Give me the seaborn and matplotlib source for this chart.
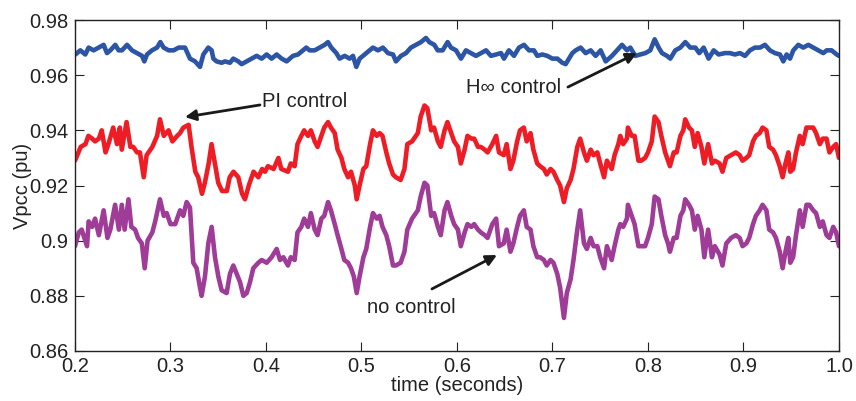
import numpy as np
import pandas as pd
import matplotlib
matplotlib.use("Agg")
import matplotlib.pyplot as plt
import seaborn as sns

# H-infinity control (blue)
t_hinf = [0.2004, 0.2056, 0.2108, 0.2143, 0.2195, 0.2248, 0.2300, 0.2335, 0.2370, 0.2422,
          0.2457, 0.2492, 0.2545, 0.2597, 0.2649, 0.2702, 0.2726, 0.2754, 0.2806, 0.2859,
          0.2894, 0.2928, 0.2981, 0.3033, 0.3086,
          0.3152, 0.3204, 0.3257, 0.3309, 0.3344, 0.3396, 0.3431, 0.3449, 0.3483, 0.3536,
          0.3571, 0.3623, 0.3658, 0.3710, 0.3745, 0.3798, 0.3850, 0.3902, 0.3955, 0.4007,
          0.4059, 0.4112, 0.4164, 0.4216,
          0.4283, 0.4335, 0.4388, 0.4422, 0.4457, 0.4510, 0.4562, 0.4614, 0.4649, 0.4684,
          0.4737, 0.4771, 0.4824, 0.4876, 0.4911, 0.4946, 0.4981, 0.5033, 0.5086, 0.5120,
          0.5173, 0.5225, 0.5277, 0.5330,
          0.5361, 0.5414, 0.5466, 0.5518, 0.5571, 0.5623, 0.5675, 0.5710, 0.5763, 0.5798,
          0.5850, 0.5902, 0.5937, 0.5990, 0.6042, 0.6094, 0.6147, 0.6199, 0.6251, 0.6304,
          0.6356, 0.6408, 0.6461,
          0.6492, 0.6544, 0.6597, 0.6649, 0.6702, 0.6754, 0.6806, 0.6841, 0.6894, 0.6946,
          0.6998, 0.7051, 0.7103, 0.7138, 0.7173, 0.7208, 0.7243, 0.7295, 0.7347, 0.7400,
          0.7452, 0.7504, 0.7557,
          0.7623, 0.7675, 0.7728, 0.7780, 0.7815, 0.7867, 0.7920, 0.7972, 0.8024, 0.8070,
          0.8112, 0.8147, 0.8199, 0.8234, 0.8286, 0.8339, 0.8391, 0.8443, 0.8496, 0.8537,
          0.8583, 0.8635, 0.8688, 0.8740,
          0.8806, 0.8859, 0.8911, 0.8963, 0.9016, 0.9068, 0.9120, 0.9173, 0.9225, 0.9277,
          0.9330, 0.9382, 0.9417, 0.9452, 0.9487, 0.9522, 0.9574, 0.9626, 0.9679, 0.9731,
          0.9784, 0.9836, 0.9871, 0.9923, 0.9976, 1.0]
v_hinf = [0.9675, 0.969, 0.9675, 0.970, 0.969, 0.970, 0.971, 0.968, 0.969, 0.971,
          0.969, 0.969, 0.971, 0.969, 0.968, 0.967, 0.965, 0.9675, 0.969, 0.970,
          0.972, 0.970, 0.969, 0.969, 0.970,
          0.970, 0.966, 0.965, 0.963, 0.9675, 0.970, 0.969, 0.966, 0.965, 0.9645,
          0.965, 0.9645, 0.966, 0.965, 0.964, 0.965, 0.966, 0.967, 0.966, 0.9675,
          0.966, 0.9675, 0.966, 0.965,
          0.967, 0.9675, 0.969, 0.970, 0.969, 0.969, 0.970, 0.971, 0.972, 0.970,
          0.968, 0.966, 0.967, 0.966, 0.967, 0.963, 0.966, 0.9675, 0.969, 0.970,
          0.969, 0.970, 0.968, 0.9675,
          0.965, 0.967, 0.968, 0.970, 0.971, 0.972, 0.9735, 0.972, 0.971, 0.969,
          0.969, 0.972, 0.970, 0.969, 0.966, 0.969, 0.968, 0.967, 0.968, 0.969,
          0.967, 0.9675, 0.968,
          0.966, 0.969, 0.967, 0.970, 0.971, 0.969, 0.969, 0.967, 0.9675, 0.967,
          0.966, 0.966, 0.9645, 0.964, 0.966, 0.968, 0.969, 0.970, 0.968, 0.969,
          0.967, 0.969, 0.965,
          0.967, 0.969, 0.971, 0.969, 0.970, 0.967, 0.9675, 0.968, 0.969, 0.973,
          0.970, 0.968, 0.967, 0.966, 0.969, 0.970, 0.972, 0.970, 0.970, 0.968,
          0.970, 0.966, 0.969, 0.9675,
          0.968, 0.968, 0.9675, 0.968, 0.967, 0.969, 0.970, 0.970, 0.971, 0.969,
          0.968, 0.9675, 0.965, 0.9675, 0.966, 0.969, 0.971, 0.970, 0.971, 0.970,
          0.969, 0.968, 0.969, 0.969, 0.9675, 0.967]

# PI control (red)
t_pi = [0.200, 0.206, 0.211, 0.214, 0.218, 0.221, 0.225, 0.228, 0.232, 0.235,
        0.240, 0.244, 0.247, 0.249, 0.254, 0.258, 0.261, 0.265, 0.268, 0.272,
        0.275, 0.281, 0.286, 0.289, 0.293, 0.298, 0.302, 0.307,
        0.310, 0.3135, 0.319, 0.322, 0.326, 0.329, 0.333, 0.336, 0.340, 0.343,
        0.347, 0.350, 0.354, 0.359, 0.362, 0.366, 0.371, 0.375, 0.378, 0.382,
        0.387, 0.392, 0.396, 0.399, 0.402, 0.408, 0.413, 0.416,
        0.423, 0.426, 0.430, 0.433, 0.437, 0.440, 0.444, 0.447, 0.451, 0.454,
        0.458, 0.461, 0.465, 0.468, 0.472, 0.475, 0.479, 0.482, 0.486, 0.489,
        0.493, 0.495, 0.498, 0.502, 0.505, 0.509, 0.512, 0.516, 0.519, 0.522,
        0.526, 0.529, 0.533,
        0.536, 0.541, 0.545, 0.548, 0.553, 0.559, 0.562, 0.566, 0.569, 0.573,
        0.576, 0.580, 0.583, 0.587, 0.590, 0.594, 0.597, 0.601, 0.604, 0.608,
        0.611, 0.615, 0.618, 0.622, 0.625, 0.629, 0.632, 0.637, 0.641, 0.644,
        0.649, 0.652, 0.656, 0.659, 0.663, 0.666, 0.670, 0.673, 0.677, 0.680,
        0.684, 0.687, 0.691, 0.694, 0.698, 0.701, 0.705, 0.708, 0.712, 0.715,
        0.719, 0.722, 0.726, 0.729, 0.733, 0.736, 0.740, 0.743, 0.747, 0.750,
        0.754, 0.757,
        0.762, 0.765, 0.769, 0.771, 0.774, 0.778, 0.779, 0.783, 0.786, 0.790,
        0.793, 0.797, 0.800, 0.804, 0.807, 0.811, 0.814, 0.818, 0.821, 0.823,
        0.827, 0.830, 0.834, 0.837, 0.839, 0.843, 0.846, 0.849, 0.852, 0.856,
        0.859, 0.863, 0.867, 0.870,
        0.875, 0.878, 0.882, 0.887, 0.892, 0.896, 0.899, 0.903, 0.906, 0.910,
        0.913, 0.917, 0.920, 0.924, 0.927, 0.931, 0.934, 0.938, 0.941, 0.944,
        0.947, 0.949, 0.952, 0.955, 0.959, 0.962, 0.966, 0.969, 0.973, 0.976,
        0.980, 0.983, 0.987, 0.990, 0.994, 0.997, 1.000]
v_pi = [0.929, 0.934, 0.935, 0.938, 0.937, 0.936, 0.937, 0.940, 0.932, 0.935,
        0.941, 0.935, 0.941, 0.933, 0.943, 0.934, 0.934, 0.932, 0.932, 0.923,
        0.931, 0.934, 0.938, 0.944, 0.938, 0.940, 0.936, 0.938,
        0.939, 0.941, 0.942, 0.934, 0.925, 0.923, 0.917, 0.921, 0.928, 0.935,
        0.927, 0.921, 0.918, 0.918, 0.923, 0.925, 0.923, 0.917, 0.915, 0.920,
        0.925, 0.923, 0.926, 0.925, 0.927, 0.926, 0.930, 0.926,
        0.925, 0.928, 0.927, 0.935, 0.938, 0.940, 0.938, 0.940, 0.936, 0.934,
        0.938, 0.941, 0.943, 0.941, 0.939, 0.933, 0.930, 0.926, 0.923, 0.925,
        0.920, 0.915, 0.920, 0.926, 0.927, 0.935, 0.940, 0.938, 0.939, 0.938,
        0.932, 0.928, 0.924,
        0.923, 0.922, 0.926, 0.935, 0.936, 0.939, 0.945, 0.949, 0.948, 0.940,
        0.941, 0.936, 0.934, 0.940, 0.943, 0.939, 0.936, 0.934, 0.928, 0.933,
        0.938, 0.937, 0.937, 0.934, 0.934, 0.933, 0.932, 0.935, 0.938, 0.932,
        0.931, 0.935, 0.926, 0.929, 0.936, 0.940, 0.941, 0.936, 0.939, 0.933,
        0.928, 0.927, 0.926, 0.924, 0.926, 0.925, 0.922, 0.920, 0.914, 0.919,
        0.922, 0.926, 0.934, 0.937, 0.932, 0.929, 0.933, 0.931, 0.932, 0.928,
        0.923, 0.929,
        0.926, 0.931, 0.935, 0.938, 0.935, 0.937, 0.941, 0.938, 0.938, 0.929,
        0.929, 0.930, 0.932, 0.936, 0.945, 0.943, 0.938, 0.932, 0.929, 0.927,
        0.932, 0.932, 0.938, 0.940, 0.944, 0.941, 0.940, 0.934, 0.939, 0.934,
        0.928, 0.935, 0.928, 0.929,
        0.928, 0.925, 0.930, 0.931, 0.932, 0.931, 0.929, 0.930, 0.931, 0.936,
        0.938, 0.939, 0.941, 0.940, 0.934, 0.933, 0.931, 0.927, 0.923, 0.928,
        0.932, 0.925, 0.926, 0.932, 0.938, 0.935, 0.941, 0.941, 0.941, 0.939,
        0.935, 0.937, 0.937, 0.932, 0.934, 0.935, 0.930]

# no control (purple)
t_nc = [0.200, 0.204, 0.207, 0.2126, 0.2143, 0.218, 0.221, 0.225, 0.230, 0.234,
        0.237, 0.242, 0.246, 0.249, 0.252, 0.256, 0.259, 0.263, 0.266, 0.270,
        0.273, 0.276, 0.281, 0.284, 0.289, 0.293, 0.296, 0.300, 0.305,
        0.310, 0.3134, 0.3169, 0.3204, 0.3239, 0.3274, 0.3309, 0.3326, 0.3361, 0.3396,
        0.3431, 0.3466, 0.3501, 0.3536, 0.3588, 0.3623, 0.3658, 0.3693, 0.3728, 0.3763,
        0.3798, 0.3833, 0.3867, 0.3920, 0.3955, 0.4007, 0.4059, 0.4112, 0.4147, 0.4182,
        0.423, 0.426, 0.430, 0.433, 0.437, 0.440, 0.444, 0.447, 0.451, 0.454,
        0.458, 0.461, 0.465, 0.468, 0.472, 0.475, 0.479, 0.482, 0.486, 0.489,
        0.492, 0.495, 0.498, 0.502, 0.505, 0.509, 0.512, 0.516, 0.519, 0.522,
        0.526, 0.529, 0.533,
        0.536, 0.541, 0.545, 0.548, 0.553, 0.559, 0.562, 0.566, 0.569, 0.573,
        0.576, 0.580, 0.583, 0.587, 0.590, 0.594, 0.597, 0.601, 0.604, 0.608,
        0.611, 0.615, 0.618, 0.622, 0.625, 0.629, 0.632, 0.637, 0.641, 0.644,
        0.649, 0.652, 0.656, 0.659, 0.663, 0.666, 0.670, 0.673, 0.677, 0.680,
        0.684, 0.687, 0.691, 0.694, 0.698, 0.701, 0.705, 0.708, 0.712, 0.715,
        0.719, 0.722, 0.726, 0.729, 0.733, 0.736, 0.740, 0.743, 0.747, 0.750,
        0.754, 0.757,
        0.762, 0.765, 0.769, 0.771, 0.774, 0.778, 0.779, 0.783, 0.786, 0.790,
        0.793, 0.797, 0.800, 0.804, 0.807, 0.811, 0.814, 0.818, 0.821, 0.823,
        0.827, 0.830, 0.834, 0.837, 0.839, 0.843, 0.846, 0.849, 0.852, 0.856,
        0.859, 0.863, 0.867, 0.870,
        0.875, 0.878, 0.882, 0.887, 0.892, 0.896, 0.899, 0.903, 0.906, 0.910,
        0.913, 0.917, 0.920, 0.924, 0.927, 0.931, 0.934, 0.938, 0.941, 0.944,
        0.947, 0.949, 0.952, 0.955, 0.959, 0.962, 0.966, 0.969, 0.973, 0.976,
        0.980, 0.983, 0.987, 0.990, 0.994, 0.997, 1.000]
v_nc = [0.898, 0.903, 0.904, 0.898, 0.907, 0.905, 0.908, 0.902, 0.911, 0.901,
        0.904, 0.913, 0.904, 0.913, 0.904, 0.915, 0.905, 0.904, 0.901, 0.899,
        0.890, 0.900, 0.903, 0.907, 0.915, 0.909, 0.910, 0.906, 0.906,
        0.911, 0.909, 0.914, 0.912, 0.892, 0.890, 0.883, 0.880, 0.887, 0.899,
        0.905, 0.894, 0.887, 0.882, 0.881, 0.888, 0.891, 0.888, 0.885, 0.880,
        0.881, 0.885, 0.890, 0.892, 0.893, 0.892, 0.894, 0.897, 0.893, 0.894,
        0.891, 0.894, 0.893, 0.903, 0.905, 0.908, 0.905, 0.910, 0.904, 0.902,
        0.908, 0.909, 0.914, 0.911, 0.906, 0.902, 0.897, 0.893, 0.892, 0.890,
        0.887, 0.881, 0.887, 0.894, 0.897, 0.905, 0.910, 0.908, 0.909, 0.905,
        0.902, 0.898, 0.891,
        0.891, 0.892, 0.896, 0.904, 0.908, 0.911, 0.916, 0.921, 0.920, 0.909,
        0.910, 0.905, 0.902, 0.911, 0.914, 0.909, 0.906, 0.904, 0.898, 0.903,
        0.906, 0.905, 0.906, 0.904, 0.903, 0.902, 0.901, 0.906, 0.908, 0.898,
        0.899, 0.904, 0.896, 0.899, 0.905, 0.909, 0.911, 0.905, 0.904, 0.898,
        0.894, 0.894, 0.893, 0.891, 0.893, 0.892, 0.888, 0.883, 0.872, 0.881,
        0.886, 0.893, 0.904, 0.911, 0.899, 0.897, 0.901, 0.898, 0.898, 0.894,
        0.890, 0.898,
        0.893, 0.898, 0.904, 0.906, 0.905, 0.908, 0.913, 0.909, 0.906, 0.898,
        0.898, 0.898, 0.901, 0.906, 0.916, 0.915, 0.909, 0.902, 0.899, 0.896,
        0.901, 0.901, 0.909, 0.911, 0.915, 0.913, 0.911, 0.904, 0.909, 0.904,
        0.894, 0.904, 0.894, 0.898,
        0.895, 0.891, 0.899, 0.901, 0.902, 0.901, 0.898, 0.899, 0.901, 0.906,
        0.909, 0.911, 0.913, 0.911, 0.904, 0.903, 0.901, 0.896, 0.890, 0.896,
        0.901, 0.892, 0.894, 0.902, 0.911, 0.905, 0.913, 0.913, 0.911, 0.910,
        0.905, 0.907, 0.902, 0.901, 0.905, 0.903, 0.898]

x_ticks = [0.2, 0.3, 0.4, 0.5, 0.6, 0.7, 0.8, 0.9, 1.0]
x_tick_labels = ["0.2", "0.3", "0.4", "0.5", "0.6", "0.7", "0.8", "0.9", "1.0"]
y_ticks = [0.86, 0.88, 0.90, 0.92, 0.94, 0.96, 0.98]
y_tick_labels = ["0.86", "0.88", "0.9", "0.92", "0.94", "0.96", "0.98"]


sns.set_style("ticks")
plt.rcParams["font.family"] = ["Liberation Sans", "DejaVu Sans"]
fs = 14.5
ink = "#222222"

fig = plt.figure(figsize=(8.56, 4.01), dpi=100)
ax = fig.add_axes([0.0876, 0.1247, 0.8925, 0.8254])

lw = 3.3
sns.lineplot(x=t_hinf, y=v_hinf, ax=ax, color="#2c55a5", lw=lw, sort=False, estimator=None)
sns.lineplot(x=t_pi, y=v_pi, ax=ax, color="#ee1d25", lw=lw, sort=False, estimator=None)
sns.lineplot(x=t_nc, y=v_nc, ax=ax, color="#9f3c98", lw=lw, sort=False, estimator=None)

ax.set_xlim(0.2, 1.0)
ax.set_ylim(0.86, 0.98)
ax.set_xticks(x_ticks)
ax.set_xticklabels(x_tick_labels)
ax.set_yticks(y_ticks)
ax.set_yticklabels(y_tick_labels)
ax.tick_params(direction="in", length=6.5, width=0.8, top=True, right=True,
               labelsize=fs, colors=ink)
ax.tick_params(axis="x", pad=4)
ax.tick_params(axis="y", pad=5)
for s in ax.spines.values():
    s.set_linewidth(1.0)
    s.set_color(ink)

ax.set_xlabel("time (seconds)", fontsize=fs, labelpad=0, color=ink)
ax.set_ylabel("Vpcc (pu)", fontsize=fs, labelpad=-2, color=ink)

# annotation texts
ax.text(0.4408, 0.9506, "PI control", fontsize=fs, ha="center", va="center", color=ink)
ax.text(0.6597, 0.9554, "H\u221e control", fontsize=fs, ha="center", va="center", color=ink)
ax.text(0.5518, 0.8756, "no control", fontsize=fs, ha="center", va="center", color=ink)

# arrows
arrow = dict(arrowstyle="-|>", color="#1a1a1a", lw=2, mutation_scale=16, shrinkA=0, shrinkB=0)
ax.annotate("", xy=(0.3152, 0.9448), xytext=(0.3937, 0.9492), arrowprops=arrow)
ax.annotate("", xy=(0.7885, 0.968), xytext=(0.7162, 0.9557), arrowprops=arrow)
ax.annotate("", xy=(0.6419, 0.8948), xytext=(0.5738, 0.8825), arrowprops=arrow)

fig.savefig("out.png", dpi=100)
